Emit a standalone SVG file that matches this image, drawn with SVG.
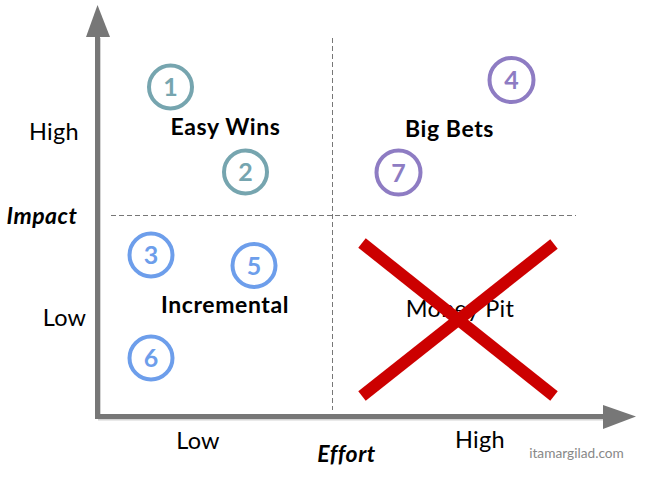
<svg xmlns="http://www.w3.org/2000/svg" width="650" height="481" viewBox="0 0 650 481">
<defs>
<style>
text{font-family:Lato,"Open Sans","Liberation Sans",sans-serif;}
.axis{stroke:#777;stroke-width:5;fill:none;}
.shadow{stroke:#d4d4d4;stroke-width:2;fill:none;}
.dash{stroke:#777;stroke-width:1;stroke-dasharray:5 3;fill:none;}
.lbl{font-size:23.5px;fill:#000;text-anchor:middle;letter-spacing:0.3px;}
.ttl{font-size:23px;font-weight:bold;font-style:italic;fill:#000;text-anchor:middle;letter-spacing:0.5px;}
.quad{font-size:23px;font-weight:bold;fill:#000;text-anchor:middle;letter-spacing:0.6px;}
.circ{fill:none;stroke-width:4;}
.num{font-size:25px;font-weight:bold;text-anchor:middle;}
.teal .circ{stroke:#76a5af;} .teal .num{fill:#76a5af;}
.blue .circ{stroke:#6d9eeb;} .blue .num{fill:#6d9eeb;}
.purple .circ{stroke:#8e7cc3;} .purple .num{fill:#8e7cc3;}
.x{stroke:#cc0000;stroke-width:12;}
</style>
</defs>
<rect width="650" height="481" fill="#fff"/>
<g id="axes">
<line class="shadow" x1="100" y1="38" x2="100" y2="420"/>
<line class="shadow" x1="98" y1="419.5" x2="603" y2="419.5"/>
<line class="axis" x1="97.5" y1="36" x2="97.5" y2="418.5"/>
<line class="axis" x1="95" y1="416.5" x2="604" y2="416.5"/>
<polygon points="97.5,5 86,37 110,37" fill="#777"/>
<polygon points="636,416.5 603,405 603,429" fill="#777"/>
</g>
<g id="connectors">
<line class="dash" x1="332.5" y1="38" x2="332.5" y2="410"/>
<line class="dash" x1="111" y1="215.5" x2="576" y2="215.5"/>
</g>
<g id="axis-labels">
<text class="lbl" x="54" y="140">High</text>
<text class="ttl" x="42" y="224">Impact</text>
<text class="lbl" x="64.5" y="326">Low</text>
<text class="lbl" x="198" y="449">Low</text>
<text class="lbl" x="480" y="448">High</text>
<text class="ttl" x="346.5" y="462">Effort</text>
<text x="576.5" y="458" font-size="13.7" fill="#888" text-anchor="middle">itamargilad.com</text>
</g>
<g id="easy-wins"><text class="quad" x="225.5" y="135">Easy Wins</text></g>
<g id="big-bets"><text class="quad" x="449.5" y="137">Big Bets</text></g>
<g id="incremental"><text class="quad" x="225" y="313">Incremental</text></g>
<g id="money-pit"><text class="lbl" x="460" y="317">Money Pit</text></g>
<g id="item-1" class="teal"><circle class="circ" cx="170.5" cy="87" r="21.5"/><text class="num" x="170.5" y="96">1</text></g>
<g id="item-2" class="teal"><circle class="circ" cx="245.5" cy="172" r="21.5"/><text class="num" x="245.5" y="181">2</text></g>
<g id="item-3" class="blue"><circle class="circ" cx="151" cy="255" r="21.5"/><text class="num" x="151" y="264">3</text></g>
<g id="item-5" class="blue"><circle class="circ" cx="254" cy="265.5" r="21.5"/><text class="num" x="254" y="274.5">5</text></g>
<g id="item-6" class="blue"><circle class="circ" cx="151" cy="358" r="21.5"/><text class="num" x="151" y="367">6</text></g>
<g id="item-4" class="purple"><circle class="circ" cx="511.5" cy="80" r="22"/><text class="num" x="511.5" y="89">4</text></g>
<g id="item-7" class="purple"><circle class="circ" cx="398.5" cy="172.5" r="22"/><text class="num" x="398.5" y="181.5">7</text></g>
<g id="cross">
<line class="x" x1="362" y1="243" x2="554" y2="396"/>
<line class="x" x1="554" y1="244" x2="362" y2="396"/>
</g>
</svg>
